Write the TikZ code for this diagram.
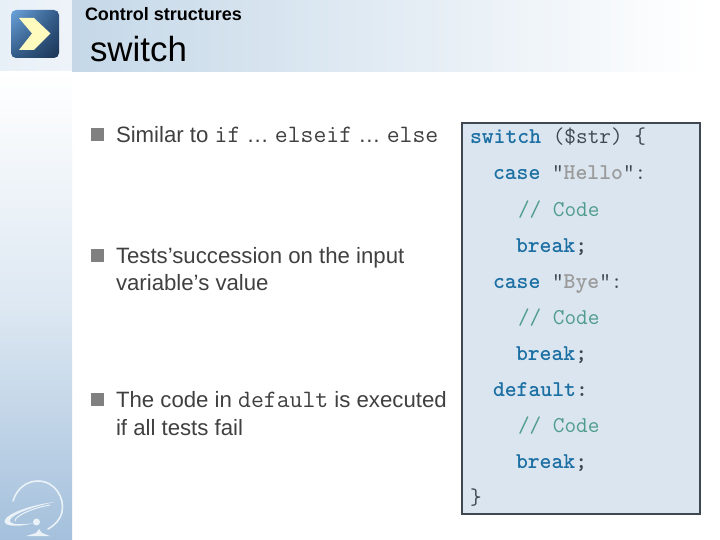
\documentclass[tikz,border=0pt]{standalone}
\usepackage{fontspec}
\usetikzlibrary{shadings}
\setmainfont{Liberation Sans}
\definecolor{kw}{HTML}{1B6FA3}
\definecolor{cm}{HTML}{4F9C8C}
\definecolor{st}{HTML}{9A9A9A}
\definecolor{dk}{HTML}{3F4850}
\definecolor{bodytxt}{HTML}{404040}
\definecolor{panel}{HTML}{DAE5EF}
\definecolor{bull}{HTML}{808080}
\definecolor{logo}{HTML}{EAF2F8}
\definecolor{cornerL}{HTML}{E8F0F7}
\definecolor{cornerR}{HTML}{EEF3F9}
\definecolor{bandL}{HTML}{C5D8E8}
\definecolor{stripT}{HTML}{FFFFFF}
\definecolor{stripM}{HTML}{DDE8F2}
\definecolor{stripB}{HTML}{A4C0DC}
\definecolor{iconA}{HTML}{6CA4DC}
\definecolor{iconB}{HTML}{325A87}
\definecolor{iconC}{HTML}{1A3454}
\definecolor{chev}{HTML}{FFFBBE}
\tikzset{
  x=1pt,y=-1pt,
  txt/.style={anchor=base west,inner sep=0pt,outer sep=0pt},
  bodyt/.style={txt,font=\fontsize{22.2}{26}\selectfont,text=bodytxt},
  codet/.style={txt,font=\fontsize{22.6}{24}\ttfamily\selectfont,text=dk},
  kwd/.style={codet,text=kw},
  cmt/.style={codet,text=cm},
  bulletbox/.style={fill=bull,draw=none},
  logoline/.style={draw=logo,line cap=round,fill=none}
}
\newcommand{\inltt}[1]{{\fontsize{25}{26}\ttfamily\selectfont #1}}
\begin{document}
\begin{tikzpicture}
\useasboundingbox (0,0) rectangle (720,540);
\fill[white] (0,0) rectangle (720,540);
% header and strip
\shade[left color=cornerL,right color=cornerR] (0,0) rectangle (72,72);
\shade[left color=bandL,right color=white] (72,0) rectangle (705,72);
\shade[top color=stripT,bottom color=stripM] (0,72) rectangle (72,306);
\shade[top color=stripM,bottom color=stripB] (0,306) rectangle (72,540);
% icon
\shade[rounded corners=5pt,upper left=iconA,upper right=iconB,lower left=iconB,lower right=iconC] (11,10) rectangle (59,58);
\fill[chev] (19,18) -- (34,18) -- (50.5,33.5) -- (34,50) -- (19,50) -- (32,33.5) -- cycle;
% logo
\draw[logoline,line width=1.6pt] (13,501) .. controls (17,488) and (27,481) .. (38,481) .. controls (55,481) and (65,498) .. (62,512) .. controls (60,520) and (55,525) .. (48,529);
\fill[logo] (55,502) .. controls (35,504) and (6,513) .. (4.5,521) .. controls (4,527) and (20,527) .. (34,523) .. controls (22,525) and (9,525) .. (10,520) .. controls (12,514) and (35,506) .. (55,502) -- cycle;
\draw[logoline,line width=1pt] (50,505) .. controls (32,508) and (15,516) .. (15,521);
\fill[logo] (36.5,522) circle (3.5);
\fill[logo] (26,536) -- (36,533) -- (39,529) -- (42,533) -- (50,536) -- cycle;
% titles
\node[txt,font=\fontsize{18}{20}\bfseries\selectfont,text=black] (sect) at (85,21) {Control structures};
\node[txt,font=\fontsize{34.9}{38}\selectfont,text=black] (title) at (90,62) {switch};
% bullets
\fill[bulletbox] (91,128) rectangle (104,141);
\fill[bulletbox] (91,249) rectangle (104,262);
\fill[bulletbox] (91,392.5) rectangle (104,405.5);
\node[bodyt] (b1) at (116,143) {Similar to \inltt{if} … \inltt{elseif} … \inltt{else}};
\node[bodyt] (b2a) at (116,263.5) {Tests’succession on the input};
\node[bodyt] (b2b) at (116,290) {variable’s value};
\node[bodyt] (b3a) at (116,407) {The code in \inltt{default} is executed};
\node[bodyt] (b3b) at (116,435) {if all tests fail};
% code panel
\draw[draw=dk,line width=2pt,fill=panel] (462,123) rectangle (700,514);
\node[codet] (c1) at (470,144) {\textcolor{kw}{\bfseries switch} (\$str) \{};
\node[codet] (c2) at (493,180) {\textcolor{kw}{\bfseries case} "\textcolor{st}{\bfseries Hello}":};
\node[cmt] (c3) at (518,216) {// Code};
\node[kwd] (c4) at (516,252) {\bfseries break\textcolor{dk}{;}};
\node[codet] (c5) at (493,288) {\textcolor{kw}{\bfseries case} "\textcolor{st}{\bfseries Bye}":};
\node[cmt] (c6) at (518,324) {// Code};
\node[kwd] (c7) at (516,360) {\bfseries break\textcolor{dk}{;}};
\node[kwd] (c8) at (493,396) {\bfseries default\textcolor{dk}{:}};
\node[cmt] (c9) at (518,432) {// Code};
\node[kwd] (c10) at (516,468) {\bfseries break\textcolor{dk}{;}};
\node[codet] (c11) at (470,504) {\}};
\end{tikzpicture}
\end{document}
